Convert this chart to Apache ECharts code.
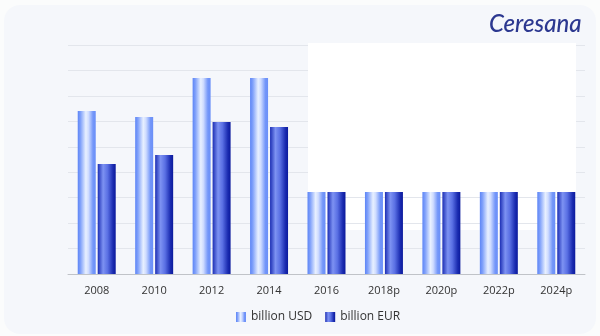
<!DOCTYPE html>
<html><head><meta charset="utf-8">
<style>html,body{margin:0;padding:0;background:#fbfcfc;}#c{width:600px;height:336px;}</style>
<script src="https://cdn.jsdelivr.net/npm/echarts@6/dist/echarts.min.js"></script>
</head><body><div id="c"></div>
<script>
var categories = ['2008','2010','2012','2014','2016','2018p','2020p','2022p','2024p'];
var usdValues = [6.41, 6.17, 7.70, 7.70, 3.22, 3.22, 3.22, 3.22, 3.22];
var eurValues = [4.32, 4.68, 5.97, 5.78, 3.22, 3.22, 3.22, 3.22, 3.22];
var seriesNames = ['billion USD', 'billion EUR'];

var usdGrad = new echarts.graphic.LinearGradient(0,0,1,0,[
  {offset:0,color:'#5d85f6'},{offset:0.15,color:'#7fa0fa'},{offset:0.45,color:'#e8f0ff'},{offset:0.6,color:'#cfdcff'},{offset:0.85,color:'#7396f9'},{offset:1,color:'#6a8ff8'}]);
var eurGrad = new echarts.graphic.LinearGradient(0,0,1,0,[
  {offset:0,color:'#1c2eb4'},{offset:0.3,color:'#7d92f2'},{offset:0.55,color:'#5a70e4'},{offset:0.85,color:'#1a2bb0'},{offset:1,color:'#0b1a9c'}]);

var chart = echarts.init(document.getElementById('c'), null, {renderer:'canvas'});
chart.setOption({
  backgroundColor:'#fbfcfc',
  animation:false,
  textStyle:{fontFamily:'Open Sans'},
  graphic:[
    {type:'rect', z:-10, shape:{x:4,y:5,width:592,height:329,r:16}, style:{fill:'#f5f7fb'}},
    {type:'rect', z:1, shape:{x:308,y:43,width:268,height:142}, style:{fill:'#ffffff'}},
    {type:'rect', z:-5, shape:{x:308,y:185,width:268,height:45}, style:{fill:'#ffffff'}},
    {type:'text', z:5, left:489, top:12, style:{text:'Ceresana', fill:'#2c3890', font:'italic 500 24px Lato'}}
  ],
  grid:{left:68,right:15,top:45,bottom:62},
  legend:{bottom:8,left:231,icon:'rect',itemWidth:10,itemHeight:10,itemGap:13,
    textStyle:{color:'#333',fontSize:12,fontFamily:'Open Sans'},data:seriesNames},
  xAxis:{type:'category',data:categories,
    axisLine:{lineStyle:{color:'#c0c3c8'}},
    axisTick:{lineStyle:{color:'#c8cbd0'},length:4},
    axisLabel:{color:'#333',fontSize:11,margin:11}},
  yAxis:{type:'value',min:0,max:9,interval:1,
    axisLabel:{show:false},axisLine:{show:false},axisTick:{show:false},
    splitLine:{lineStyle:{color:'#e3e6ec'}}},
  series:[
    {name:seriesNames[0],type:'bar',data:usdValues,barWidth:18,barGap:'11%',itemStyle:{color:usdGrad}},
    {name:seriesNames[1],type:'bar',data:eurValues,barWidth:18,barGap:'11%',itemStyle:{color:eurGrad}}
  ]
});
</script></body></html>
